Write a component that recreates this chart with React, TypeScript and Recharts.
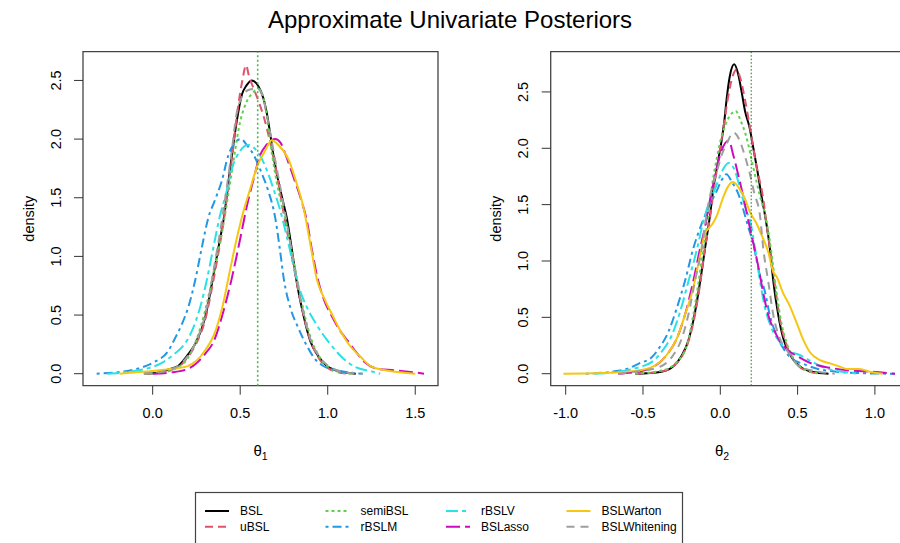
import React from 'react';
import { LineChart, Line, XAxis, YAxis, ReferenceLine, ReferenceArea } from 'recharts';

type Pt = [number, number];

const seriesNames = ['BSL', 'uBSL', 'semiBSL', 'rBSLM', 'rBSLV', 'BSLasso', 'BSLWarton', 'BSLWhitening'];
const seriesColors = ['#000000', '#DF536B', '#61D04F', '#2297E6', '#28E2E5', '#CD0BBC', '#F5C710', '#9E9E9E'];
const seriesDashes = ['', '8 5', '3 3', '3 4 9 4', '12 4 4 4', '14 5', '', '8 6'];

const theta1Ticks = [0, 0.5, 1, 1.5];
const theta2Ticks = [-1, -0.5, 0, 0.5, 1];
const densityTicks = [0, 0.5, 1, 1.5, 2, 2.5];
const trueValues = [0.6, 0.2];

// theta_1 densities
const t1BSL: Pt[] = [[-0.05,0],[0.0,0.004],[0.05,0.015],[0.10,0.04],[0.145,0.065],[0.20,0.16],[0.245,0.26],[0.30,0.48],[0.34,0.78],[0.375,1.07],[0.41,1.36],[0.44,1.72],[0.48,2.15],[0.51,2.38],[0.537,2.46],[0.566,2.50],[0.604,2.45],[0.632,2.35],[0.651,2.23],[0.67,2.06],[0.69,1.86],[0.718,1.64],[0.746,1.46],[0.766,1.33],[0.794,1.07],[0.822,0.79],[0.861,0.50],[0.90,0.28],[0.946,0.15],[1.0,0.06],[1.078,0.017],[1.16,0]];
const t1uBSL: Pt[] = [[-0.05,0],[0.0,0.003],[0.05,0.01],[0.10,0.03],[0.15,0.06],[0.20,0.14],[0.25,0.26],[0.30,0.46],[0.35,0.82],[0.40,1.25],[0.45,1.80],[0.49,2.30],[0.515,2.52],[0.533,2.63],[0.55,2.54],[0.585,2.40],[0.613,2.29],[0.642,2.15],[0.67,1.98],[0.70,1.78],[0.727,1.55],[0.75,1.35],[0.78,1.12],[0.81,0.88],[0.85,0.58],[0.90,0.29],[0.95,0.13],[1.0,0.05],[1.05,0.015],[1.12,0]];
const t1semiBSL: Pt[] = [[-0.05,0],[0.05,0.01],[0.15,0.06],[0.20,0.13],[0.25,0.29],[0.30,0.54],[0.35,0.88],[0.40,1.24],[0.45,1.70],[0.50,2.15],[0.537,2.32],[0.575,2.40],[0.60,2.43],[0.625,2.39],[0.645,2.26],[0.664,2.06],[0.683,1.86],[0.708,1.64],[0.737,1.44],[0.76,1.31],[0.80,1.00],[0.85,0.62],[0.90,0.32],[0.95,0.15],[1.00,0.06],[1.05,0.02],[1.15,0]];
const t1rBSLM: Pt[] = [[-0.32,0],[-0.18,0.017],[-0.08,0.045],[0.01,0.10],[0.087,0.19],[0.127,0.30],[0.166,0.42],[0.204,0.57],[0.242,0.79],[0.28,1.07],[0.318,1.33],[0.356,1.48],[0.394,1.64],[0.432,1.86],[0.47,1.97],[0.505,2.00],[0.537,1.95],[0.575,1.87],[0.62,1.72],[0.66,1.56],[0.70,1.33],[0.725,1.08],[0.75,0.80],[0.785,0.57],[0.832,0.39],[0.88,0.24],[0.93,0.12],[0.97,0.07],[1.05,0.03],[1.2,0]];
const t1rBSLV: Pt[] = [[-0.26,0],[-0.14,0.015],[-0.03,0.045],[0.05,0.09],[0.126,0.17],[0.17,0.23],[0.223,0.36],[0.27,0.56],[0.308,0.79],[0.346,1.07],[0.385,1.35],[0.417,1.52],[0.455,1.76],[0.50,1.90],[0.545,1.95],[0.575,1.93],[0.613,1.86],[0.651,1.74],[0.689,1.58],[0.727,1.40],[0.766,1.17],[0.80,0.95],[0.835,0.74],[0.88,0.57],[0.927,0.44],[0.975,0.33],[1.0,0.28],[1.078,0.145],[1.154,0.06],[1.25,0.02],[1.3,0]];
const t1BSLasso: Pt[] = [[0.0,0],[0.10,0.01],[0.20,0.04],[0.25,0.09],[0.30,0.17],[0.35,0.28],[0.40,0.51],[0.45,0.80],[0.50,1.15],[0.537,1.42],[0.575,1.65],[0.613,1.86],[0.65,1.95],[0.70,2.00],[0.73,1.97],[0.756,1.88],[0.79,1.74],[0.813,1.64],[0.851,1.47],[0.88,1.31],[0.908,1.07],[0.946,0.79],[0.984,0.61],[1.02,0.50],[1.078,0.35],[1.12,0.27],[1.154,0.20],[1.21,0.10],[1.29,0.04],[1.38,0.03],[1.5,0.01],[1.55,0]];
const t1BSLWarton: Pt[] = [[-0.19,0],[0.01,0.025],[0.10,0.04],[0.20,0.065],[0.25,0.11],[0.30,0.20],[0.35,0.33],[0.40,0.58],[0.44,0.87],[0.48,1.15],[0.518,1.38],[0.556,1.57],[0.60,1.78],[0.642,1.90],[0.68,1.99],[0.718,1.95],[0.775,1.83],[0.823,1.62],[0.861,1.42],[0.899,1.12],[0.937,0.81],[0.984,0.63],[1.03,0.49],[1.06,0.40],[1.116,0.26],[1.19,0.14],[1.25,0.06],[1.345,0.025],[1.5,0]];
const t1BSLWhitening: Pt[] = [[-0.05,0],[0.05,0.015],[0.10,0.035],[0.15,0.07],[0.20,0.15],[0.25,0.28],[0.30,0.50],[0.35,0.90],[0.40,1.35],[0.45,1.88],[0.48,2.22],[0.51,2.36],[0.55,2.42],[0.60,2.43],[0.63,2.36],[0.65,2.22],[0.70,1.82],[0.75,1.42],[0.80,1.00],[0.85,0.60],[0.90,0.30],[0.95,0.15],[1.0,0.07],[1.05,0.03],[1.1,0.01],[1.2,0]];

// theta_2 densities
const t2BSL: Pt[] = [[-0.55,0],[-0.38,0.018],[-0.30,0.07],[-0.25,0.16],[-0.21,0.28],[-0.17,0.50],[-0.13,0.82],[-0.099,1.11],[-0.067,1.40],[-0.045,1.64],[-0.013,1.90],[0.011,2.09],[0.026,2.24],[0.042,2.45],[0.063,2.65],[0.09,2.745],[0.117,2.65],[0.138,2.50],[0.16,2.33],[0.19,2.18],[0.214,2.0],[0.24,1.80],[0.27,1.55],[0.29,1.40],[0.321,1.11],[0.343,0.82],[0.375,0.52],[0.408,0.31],[0.45,0.17],[0.506,0.076],[0.59,0.017],[0.70,0]];
const t2uBSL: Pt[] = [[-0.55,0],[-0.38,0.02],[-0.30,0.07],[-0.25,0.15],[-0.21,0.27],[-0.17,0.48],[-0.13,0.80],[-0.10,1.10],[-0.067,1.38],[-0.04,1.65],[-0.01,1.92],[0.02,2.18],[0.05,2.45],[0.08,2.64],[0.105,2.70],[0.13,2.62],[0.16,2.43],[0.19,2.20],[0.234,1.84],[0.278,1.55],[0.30,1.32],[0.33,1.02],[0.36,0.72],[0.39,0.45],[0.43,0.25],[0.48,0.11],[0.55,0.03],[0.65,0]];
const t2semiBSL: Pt[] = [[-0.55,0],[-0.37,0.03],[-0.28,0.107],[-0.217,0.25],[-0.175,0.52],[-0.14,0.82],[-0.11,1.11],[-0.077,1.40],[-0.05,1.70],[-0.02,1.93],[0.0,2.06],[0.033,2.21],[0.074,2.31],[0.10,2.33],[0.13,2.25],[0.16,2.14],[0.19,1.98],[0.21,1.85],[0.235,1.70],[0.26,1.56],[0.29,1.41],[0.32,1.18],[0.345,0.92],[0.37,0.66],[0.40,0.42],[0.43,0.27],[0.48,0.12],[0.55,0.035],[0.65,0]];
const t2rBSLM: Pt[] = [[-0.87,0],[-0.70,0.018],[-0.59,0.05],[-0.527,0.09],[-0.44,0.15],[-0.40,0.22],[-0.336,0.37],[-0.282,0.58],[-0.229,0.82],[-0.175,1.11],[-0.115,1.35],[-0.067,1.50],[-0.024,1.62],[0.01,1.72],[0.04,1.77],[0.075,1.70],[0.118,1.59],[0.15,1.45],[0.181,1.30],[0.214,1.15],[0.246,0.93],[0.29,0.72],[0.32,0.52],[0.364,0.34],[0.407,0.225],[0.45,0.15],[0.55,0.08],[0.636,0.04],[0.74,0.02],[0.96,0.003],[1.13,0]];
const t2rBSLV: Pt[] = [[-0.81,0],[-0.66,0.018],[-0.55,0.048],[-0.44,0.107],[-0.379,0.195],[-0.314,0.34],[-0.26,0.55],[-0.206,0.82],[-0.15,1.11],[-0.11,1.35],[-0.077,1.50],[-0.034,1.64],[0.009,1.79],[0.052,1.87],[0.075,1.85],[0.095,1.80],[0.117,1.70],[0.138,1.59],[0.17,1.44],[0.192,1.36],[0.225,1.11],[0.257,0.82],[0.29,0.58],[0.333,0.40],[0.386,0.28],[0.45,0.195],[0.506,0.17],[0.592,0.107],[0.678,0.05],[0.786,0.018],[0.89,0]];
const t2BSLasso: Pt[] = [[-0.66,0],[-0.485,0.033],[-0.43,0.062],[-0.347,0.166],[-0.282,0.31],[-0.229,0.52],[-0.175,0.82],[-0.131,1.11],[-0.099,1.30],[-0.067,1.54],[-0.035,1.75],[0.008,1.98],[0.055,2.07],[0.082,1.95],[0.115,1.77],[0.149,1.57],[0.181,1.36],[0.21,1.18],[0.246,0.95],[0.28,0.70],[0.31,0.52],[0.35,0.38],[0.40,0.26],[0.45,0.195],[0.506,0.15],[0.592,0.09],[0.72,0.05],[0.85,0.027],[0.98,0.018],[1.13,0]];
const t2BSLWarton: Pt[] = [[-1.015,0],[-0.77,0.006],[-0.55,0.025],[-0.44,0.06],[-0.347,0.166],[-0.282,0.31],[-0.229,0.52],[-0.175,0.76],[-0.131,1.05],[-0.10,1.24],[-0.075,1.29],[-0.05,1.33],[-0.023,1.40],[0.02,1.57],[0.05,1.66],[0.08,1.70],[0.125,1.64],[0.157,1.56],[0.19,1.44],[0.235,1.33],[0.27,1.22],[0.31,1.08],[0.341,0.91],[0.365,0.86],[0.405,0.72],[0.45,0.60],[0.494,0.45],[0.537,0.30],[0.58,0.19],[0.645,0.12],[0.71,0.092],[0.774,0.063],[0.818,0.042],[0.90,0.042],[0.966,0.018],[1.05,0]];
const t2BSLWhitening: Pt[] = [[-0.66,0],[-0.55,0.018],[-0.39,0.062],[-0.304,0.166],[-0.25,0.31],[-0.207,0.52],[-0.164,0.82],[-0.12,1.11],[-0.088,1.42],[-0.056,1.64],[-0.023,1.79],[0.009,1.94],[0.041,2.04],[0.085,2.14],[0.125,2.07],[0.157,1.94],[0.19,1.78],[0.22,1.60],[0.257,1.40],[0.278,1.11],[0.31,0.82],[0.343,0.52],[0.386,0.31],[0.44,0.19],[0.506,0.07],[0.636,0.018],[0.74,0]];

const theta1Series = [t1BSL, t1uBSL, t1semiBSL, t1rBSLM, t1rBSLV, t1BSLasso, t1BSLWarton, t1BSLWhitening];
const theta2Series = [t2BSL, t2uBSL, t2semiBSL, t2rBSLM, t2rBSLV, t2BSLasso, t2BSLWarton, t2BSLWhitening];

const FONT = '"Liberation Sans", Arial, Helvetica, sans-serif';
const fmt = (v: number) => v.toFixed(1);

const XTick = (props: any) => {
  const { x, y, payload } = props;
  return (
    <text x={x} y={y + 18.6} dy="0.35em" textAnchor="middle" fontSize={14.5} fill="#000" fontFamily={FONT}>
      {fmt(payload.value)}
    </text>
  );
};

const YTick = (props: any) => {
  const { x, y, payload } = props;
  const cx = x - 18.5;
  return (
    <text x={cx} y={y} dy="0.35em" textAnchor="middle" transform={`rotate(-90 ${cx} ${y})`} fontSize={14.5} fill="#000" fontFamily={FONT}>
      {fmt(payload.value)}
    </text>
  );
};

type PanelProps = {
  left: number;
  width: number;
  mLeft: number;
  mRight: number;
  xDomain: [number, number];
  yDomain: [number, number];
  xTicks: number[];
  series: Pt[][];
  truth: number;
  truthColor: string;
  truthWidth: number;
  truthDash: string;
};

function Panel(p: PanelProps) {
  return (
    <div style={{ position: 'absolute', left: p.left, top: 0 }}>
      <LineChart width={p.width} height={543} margin={{ top: 51.7, right: p.mRight, bottom: 127.3, left: p.mLeft }}>
        <XAxis
          type="number"
          dataKey="x"
          domain={p.xDomain}
          ticks={p.xTicks}
          allowDataOverflow
          axisLine={false}
          tickLine={{ stroke: '#333', strokeWidth: 1 }}
          tickSize={9}
          tickMargin={0}
          height={30}
          interval={0}
          tick={XTick}
        />
        <YAxis
          type="number"
          dataKey="y"
          domain={p.yDomain}
          ticks={densityTicks}
          allowDataOverflow
          axisLine={false}
          tickLine={{ stroke: '#333', strokeWidth: 1 }}
          tickSize={9}
          tickMargin={0}
          width={60}
          interval={0}
          tick={YTick}
        />
        <ReferenceArea
          x1={p.xDomain[0]}
          x2={p.xDomain[1]}
          y1={p.yDomain[0]}
          y2={p.yDomain[1]}
          fill="none"
          fillOpacity={0}
          stroke="#444"
          strokeWidth={1.3}
          ifOverflow="visible"
        />
        {p.series.map((pts, i) => (
          <Line
            key={seriesNames[i]}
            name={seriesNames[i]}
            data={pts.map(([x, y]) => ({ x, y }))}
            dataKey="y"
            type="monotone"
            stroke={seriesColors[i]}
            strokeDasharray={seriesDashes[i] || undefined}
            strokeWidth={2}
            dot={false}
            activeDot={false}
            isAnimationActive={false}
          />
        ))}
        <ReferenceLine x={p.truth} stroke={p.truthColor} strokeWidth={p.truthWidth} strokeDasharray={p.truthDash} />
      </LineChart>
    </div>
  );
}

export default function App() {
  const colW = 120.5;
  return (
    <div style={{ position: 'absolute', left: 0, top: 0, width: 900, height: 543, overflow: 'hidden', background: '#fff', fontFamily: FONT }}>
      <Panel
        left={0}
        width={450}
        mLeft={23}
        mRight={12}
        xDomain={[-0.398, 1.63]}
        yDomain={[-0.1023, 2.745]}
        xTicks={theta1Ticks}
        series={theta1Series}
        truth={trueValues[0]}
        truthColor="#4CB84C"
        truthWidth={1.6}
        truthDash="2 2.5"
      />
      <Panel
        left={450}
        width={460}
        mLeft={40.7}
        mRight={5}
        xDomain={[-1.097, 1.1947]}
        yDomain={[-0.1065, 2.857]}
        xTicks={theta2Ticks}
        series={theta2Series}
        truth={trueValues[1]}
        truthColor="#1E6E1E"
        truthWidth={1}
        truthDash="1.5 2"
      />
      <svg width={900} height={543} style={{ position: 'absolute', left: 0, top: 0, pointerEvents: 'none' }}>
        <text x={450} y={28} textAnchor="middle" fontSize={24} fill="#000" fontFamily={FONT}>
          Approximate Univariate Posteriors
        </text>
        <text x={33.8} y={218.7} textAnchor="middle" transform="rotate(-90 33.8 218.7)" fontSize={14.5} fill="#000" fontFamily={FONT}>
          density
        </text>
        <text x={501.5} y={218.7} textAnchor="middle" transform="rotate(-90 501.5 218.7)" fontSize={14.5} fill="#000" fontFamily={FONT}>
          density
        </text>
        <text x={260.5} y={456} textAnchor="middle" fontSize={15} fill="#000" fontFamily={FONT}>
          θ<tspan dy={4} fontSize={10.5}>1</tspan>
        </text>
        <text x={722} y={456} textAnchor="middle" fontSize={15} fill="#000" fontFamily={FONT}>
          θ<tspan dy={4} fontSize={10.5}>2</tspan>
        </text>
        <rect x={195.5} y={492.5} width={487} height={60} fill="none" stroke="#444" strokeWidth={1.2} />
        {seriesNames.map((name, i) => {
          const col = Math.floor(i / 2);
          const row = i % 2;
          const lx = 205 + col * colW;
          const ty = 511 + row * 15.7;
          return (
            <g key={name}>
              <line x1={lx} x2={lx + 24} y1={ty} y2={ty} stroke={seriesColors[i]} strokeWidth={2} strokeDasharray={seriesDashes[i] || undefined} />
              <text x={lx + 35} y={ty} dy="0.35em" fontSize={12} fill="#000" fontFamily={FONT}>
                {name}
              </text>
            </g>
          );
        })}
      </svg>
    </div>
  );
}
